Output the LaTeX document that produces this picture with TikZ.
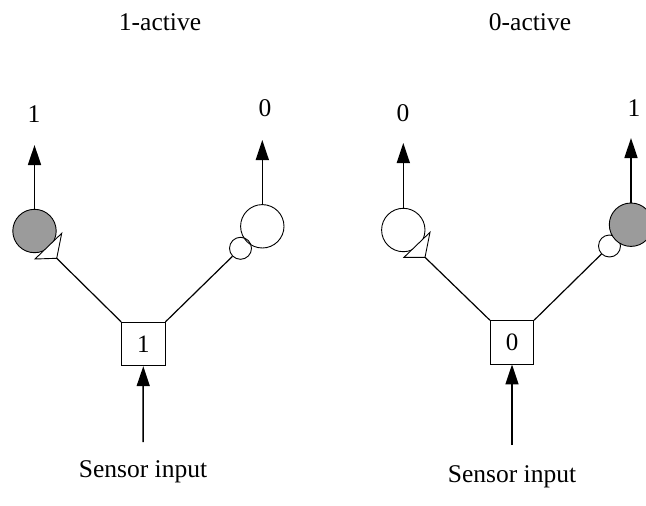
\documentclass[tikz,border=0pt]{standalone}
\usepackage{fontspec}
\setmainfont{Liberation Serif}
\usetikzlibrary{arrows.meta}
\definecolor{cellgray}{RGB}{155,155,155}
\tikzset{
  neuron/.style={circle, draw, line width=0.9pt, minimum size=43.4pt, inner sep=0pt},
  onneuron/.style={neuron, fill=cellgray},
  offneuron/.style={neuron},
  inhib/.style={circle, draw, line width=0.9pt, minimum size=22pt, inner sep=0pt},
  cellbox/.style={draw, line width=0.9pt, minimum size=43.4pt, inner sep=0pt, font=\fontsize{25}{29}\selectfont},
  synapse/.style={draw, line width=0.9pt, fill=white, line join=miter},
  wire/.style={line width=1.2pt},
  outarrow/.style={line width=1.5pt, -{Triangle[width=13pt,length=20pt]}},
  lbl/.style={font=\fontsize{25.5}{29}\selectfont, inner sep=0pt}
}
\begin{document}
\begin{tikzpicture}[x=1pt,y=-1pt]
  \useasboundingbox (0,0) rectangle (646,506);
  \clip (0,0) rectangle (646,506);

  % ---------- 1-active cell ----------
  \node[lbl] (t1) at (160,22) {1-active};
  \node[cellbox] (b1) at (143.3,344) {1};
  \node[onneuron] (g1) at (34.5,231) {};
  \node[offneuron] (w1) at (262.3,226.3) {};
  \node[inhib] (s1) at (240.5,248.3) {};
  % excitatory synapse onto the active neuron
  \coordinate (e1a) at (61.7,233.3);
  \coordinate (e1b) at (35,259);
  \coordinate (e1) at (56.7,258.3);
  \draw[synapse] (e1a) -- (e1b) -- (e1) -- cycle;
  \draw[wire] (e1) -- (b1.north west);
  \draw[wire] (s1.south west) -- (b1.north east);
  \coordinate (o1) at (34.5,145);
  \coordinate (o2) at (262.3,140);
  \draw[outarrow] (g1.north) -- (o1);
  \draw[outarrow] (w1.north) -- (o2);
  \node[lbl] (l1) at (34,114) {1};
  \node[lbl] (l2) at (265,108) {0};
  \node[lbl] (in1) at (143,472) {Sensor input};
  \coordinate (i1) at (143,442);
  \draw[outarrow] (i1) -- (b1.south);

  % ---------- 0-active cell ----------
  \node[lbl] (t0) at (530,22) {0-active};
  \node[cellbox] (b0) at (512,342.3) {0};
  \node[offneuron] (w0) at (403.3,230) {};
  \node[inhib, fill=white] (s0) at (609.5,246) {};
  \node[onneuron] (g0) at (631,224.7) {};
  \coordinate (e0a) at (430,232.3);
  \coordinate (e0b) at (404,257.3);
  \coordinate (e0) at (425,257.3);
  \draw[synapse] (e0a) -- (e0b) -- (e0) -- cycle;
  \draw[wire] (e0) -- (b0.north west);
  \draw[wire] (s0.south west) -- (b0.north east);
  \coordinate (o3) at (403.3,143);
  \coordinate (o4) at (631,138);
  \draw[outarrow] (w0.north) -- (o3);
  \draw[outarrow] (g0.north) -- (o4);
  \node[lbl] (l3) at (403,113) {0};
  \node[lbl] (l4) at (634,108) {1};
  \node[lbl] (in0) at (512,477) {Sensor input};
  \coordinate (i0) at (512,445);
  \draw[outarrow] (i0) -- (b0.south);
\end{tikzpicture}
\end{document}
